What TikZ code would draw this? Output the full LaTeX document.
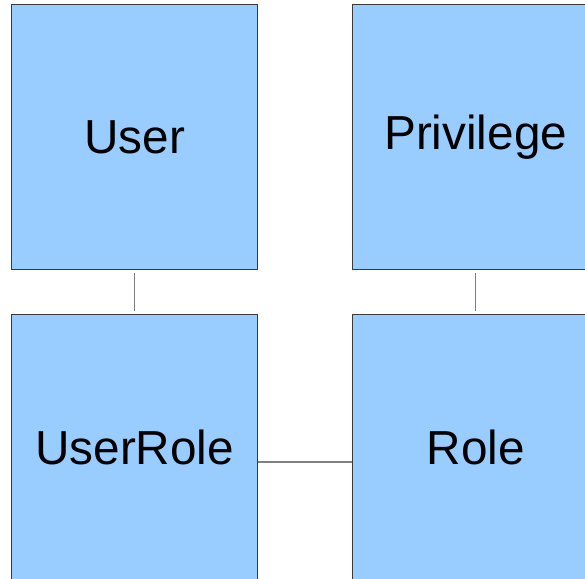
\documentclass[tikz,border=0pt]{standalone}
\usepackage{fontspec}
\setmainfont{Liberation Sans}
\definecolor{boxblue}{HTML}{99CCFF}
\definecolor{boxline}{HTML}{3A3A3A}
\definecolor{conn}{HTML}{808080}
\begin{document}
\begin{tikzpicture}[x=1pt,y=-1pt,
  entity/.style={draw=boxline, line width=1.3pt, fill=boxblue, anchor=north west,
    minimum width=246pt, minimum height=265pt, inner sep=0pt,
    font=\fontsize{47.7}{52}\selectfont},
  link/.style={draw=conn, line width=1.5pt}]
\useasboundingbox (0,0) rectangle (585,578);
\clip (0,0) rectangle (585,578);
\fill[white] (0,0) rectangle (585,578);
\node[entity] (user) at (11,4) {User};
\node[entity] (priv) at (352,4) {Privilege};
\node[entity] (userrole) at (11,314) {UserRole};
\node[entity] (role) at (352,314) {Role};
\draw[link, shorten <=3pt, shorten >=3pt] (user.south) -- (userrole.north);
\draw[link, shorten <=3pt, shorten >=3pt] (priv.south) -- (role.north);
\draw[link] (userrole.east |- 0,462) -- (role.west |- 0,462);
\end{tikzpicture}
\end{document}
